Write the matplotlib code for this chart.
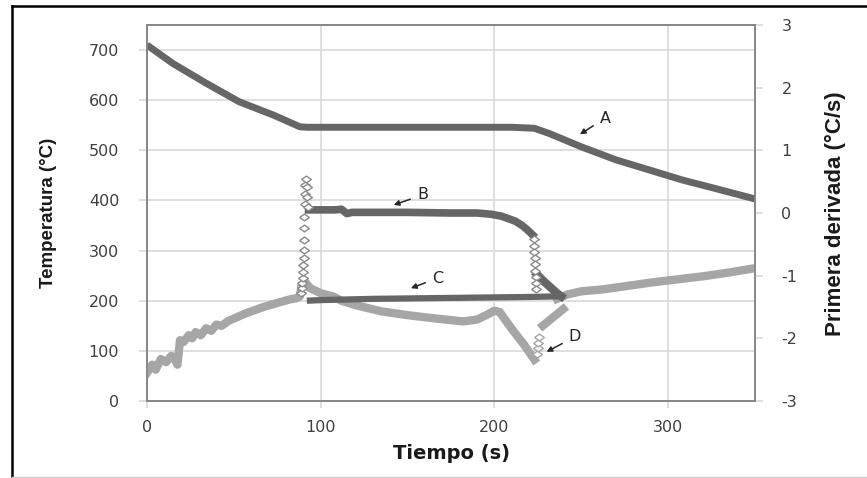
import matplotlib
matplotlib.use("Agg")
import matplotlib.pyplot as plt
from matplotlib.lines import Line2D

plt.rcParams.update({"font.family": "DejaVu Sans", "axes.unicode_minus": False})

# ---- data ----
# A: cooling curve, left axis (deg C)
time_A = [0, 15, 34, 53, 73, 88, 92, 120, 150, 180, 210, 223, 232, 241, 250, 270, 289, 308, 327, 350]
temp_A = [710, 673, 634, 597, 570, 547, 546, 546, 546, 546, 546, 544, 533, 520, 507, 481, 461, 441, 424, 403]

# B: first derivative (dark), right axis (deg C / s)
time_B = [93, 100, 108, 112, 115, 118, 125, 150, 175, 190, 198, 204, 208, 212, 216, 219, 222]
der_B = [0.05, 0.05, 0.05, 0.06, -0.01, 0.01, 0.01, 0.01, 0.0, 0.0, -0.02, -0.05, -0.09, -0.13, -0.20, -0.27, -0.35]
time_B_rise = [88.8, 89.1, 89.4, 89.6, 89.8, 90.0, 90.1, 90.2, 90.3, 90.4, 90.5, 90.7, 90.9, 91.1, 91.4, 92.0, 92.3, 92.6]
der_B_rise = [-1.28, -1.20, -1.12, -1.04, -0.94, -0.83, -0.72, -0.59, -0.43, -0.24, -0.06, 0.15, 0.31, 0.45, 0.55, 0.42, 0.26, 0.10]
time_B_fall = [222.6, 222.8, 223.0, 223.2, 223.4, 223.6, 223.8, 224.0, 224.2]
der_B_fall = [-0.42, -0.52, -0.62, -0.72, -0.82, -0.92, -1.02, -1.12, -1.22]
time_B_tail = [224.5, 228, 232, 236, 238.5]
der_B_tail = [-0.98, -1.08, -1.18, -1.28, -1.33]

# C: baseline (dark), right axis
time_C = [92, 100, 130, 160, 190, 220, 237]
der_C = [-1.40, -1.39, -1.37, -1.36, -1.35, -1.34, -1.33]

# D: baseline (light), right axis
time_D = [0, 3, 5, 8, 11, 14, 16, 17.5, 19, 21, 24, 26, 28, 31, 34, 37, 40, 43, 47, 52,
          57, 62, 67, 72, 77, 82, 86, 88, 89, 91, 94, 100, 107, 112, 120, 135, 150, 165,
          182, 190, 196, 200, 203, 210, 217, 223]
der_D = [-2.55, -2.42, -2.50, -2.33, -2.38, -2.28, -2.33, -2.42, -2.03, -2.06, -1.95, -2.00,
         -1.90, -1.95, -1.84, -1.88, -1.78, -1.80, -1.72, -1.66, -1.60, -1.55, -1.50, -1.46,
         -1.42, -1.38, -1.36, -1.33, -1.15, -1.10, -1.20, -1.28, -1.33, -1.40, -1.47, -1.57,
         -1.63, -1.68, -1.73, -1.70, -1.62, -1.56, -1.58, -1.85, -2.10, -2.34]
time_D_jump = [224.5, 224.8, 225.1, 225.4]
der_D_jump = [-2.25, -2.16, -2.07, -1.98]
time_D_back = [226, 241.5]
der_D_back = [-1.84, -1.49]
time_D_tail = [236, 242, 250, 262, 275, 290, 305, 320, 335, 350]
der_D_tail = [-1.37, -1.30, -1.25, -1.22, -1.17, -1.11, -1.06, -1.01, -0.95, -0.88]

x_ticks = [0, 100, 200, 300]
left_ticks = [0, 100, 200, 300, 400, 500, 600, 700]
right_ticks = [-3, -2, -1, 0, 1, 2, 3]

DARK = "#666666"
LIGHT = "#a6a6a6"
SPINE = "#868686"
GRID = "#d9d9d9"
TXT = "#404040"
diamond = [(-1, 0), (0, 0.7), (1, 0), (0, -0.7), (-1, 0)]

fig = plt.figure(figsize=(8.67, 4.78), dpi=100, facecolor="white")
ax = fig.add_axes([147 / 867, 1 - 401 / 478, 608 / 867, 376 / 478])
ax2 = ax.twinx()

# ---- left axis: temperature ----
ax.plot(time_A, temp_A, color=DARK, lw=5, solid_capstyle="butt", zorder=3)
ax.set_xlim(0, 350)
ax.set_ylim(0, 750)
ax.set_xticks(x_ticks)
ax.set_yticks(left_ticks)
ax.grid(True, color=GRID, lw=1.2)
ax.set_axisbelow(True)

# ---- right axis: derivative ----
ax2.plot(time_D, der_D, color=LIGHT, lw=6, zorder=2)
ax2.plot(time_D_back, der_D_back, color=LIGHT, lw=6, solid_capstyle="butt", zorder=2)
ax2.plot(time_D_tail, der_D_tail, color=LIGHT, lw=6, zorder=2)
ax2.plot(time_D_jump, der_D_jump, ls="none", marker=diamond, ms=7, mfc="white",
         mec=LIGHT, mew=1, zorder=2)
ax2.plot(time_C, der_C, color=DARK, lw=4.5, solid_capstyle="butt", zorder=3)
ax2.plot(time_B, der_B, color=DARK, lw=5.5, zorder=3)
ax2.plot(time_B_tail, der_B_tail, color=DARK, lw=6, zorder=3)
ax2.plot(time_B_rise, der_B_rise, ls="none", marker=diamond, ms=7, mfc="white",
         mec="#8a8a8a", mew=1, zorder=4)
ax2.plot(time_B_fall, der_B_fall, ls="none", marker=diamond, ms=7, mfc="white",
         mec="#8a8a8a", mew=1, zorder=4)
ax2.set_ylim(-3, 3)
ax2.set_yticks(right_ticks)

for a in (ax, ax2):
    for s in a.spines.values():
        s.set_color(SPINE)
        s.set_linewidth(1.2)
ax.tick_params(axis="y", length=6, width=1.2, color=GRID, pad=14, labelsize=11.5, labelcolor=TXT)
ax.tick_params(axis="x", length=5, width=1.2, color=GRID, pad=9, labelsize=11.5, labelcolor=TXT)
ax2.tick_params(axis="y", length=6, width=1.2, color=GRID, pad=13, labelsize=11.5, labelcolor=TXT)

ax.set_xlabel("Tiempo (s)", fontsize=14, fontweight="bold", color="#1a1a1a", labelpad=6)
fig.text(49 / 867, 1 - 213 / 478, "Temperatura (°C)", rotation=90, ha="center", va="center",
         fontsize=13.5, fontweight="bold", family=["Liberation Sans", "DejaVu Sans"],
         color="#1a1a1a")
fig.text(835 / 867, 1 - 214 / 478, "Primera derivada (°C/s)", rotation=90, ha="center",
         va="center", fontsize=16, fontweight="bold", family=["Liberation Sans", "DejaVu Sans"],
         color="#1a1a1a")

# ---- curve labels ----
labels = [("A", (249.2, 532), (263.7, 564)),
          ("B", (142, 391), (158.6, 411)),
          ("C", (151.9, 225), (167.3, 245)),
          ("D", (230, 98), (246.3, 128))]
for name, tip, pos in labels:
    ax2.annotate(name, xy=tip, xytext=pos, xycoords=ax.transData, textcoords=ax.transData,
                 ha="center", va="center", fontsize=11.5, color="#262626", zorder=6,
                 arrowprops=dict(arrowstyle="-|>", color="#262626", lw=1.1,
                                 mutation_scale=8, shrinkA=3, shrinkB=0))

# ---- outer frame ----
fig.add_artist(Line2D([12 / 867, 12 / 867], [1 - 477 / 478, 1 - 6 / 478], color="black",
                      lw=1.8, transform=fig.transFigure))
fig.add_artist(Line2D([12 / 867, 1], [1 - 6 / 478, 1 - 6 / 478], color="black",
                      lw=1.8, transform=fig.transFigure))
fig.add_artist(Line2D([12 / 867, 1], [1 - 477 / 478, 1 - 477 / 478], color="#d0d0d0",
                      lw=1, transform=fig.transFigure))

fig.savefig("out.png", dpi=100, facecolor="white")
